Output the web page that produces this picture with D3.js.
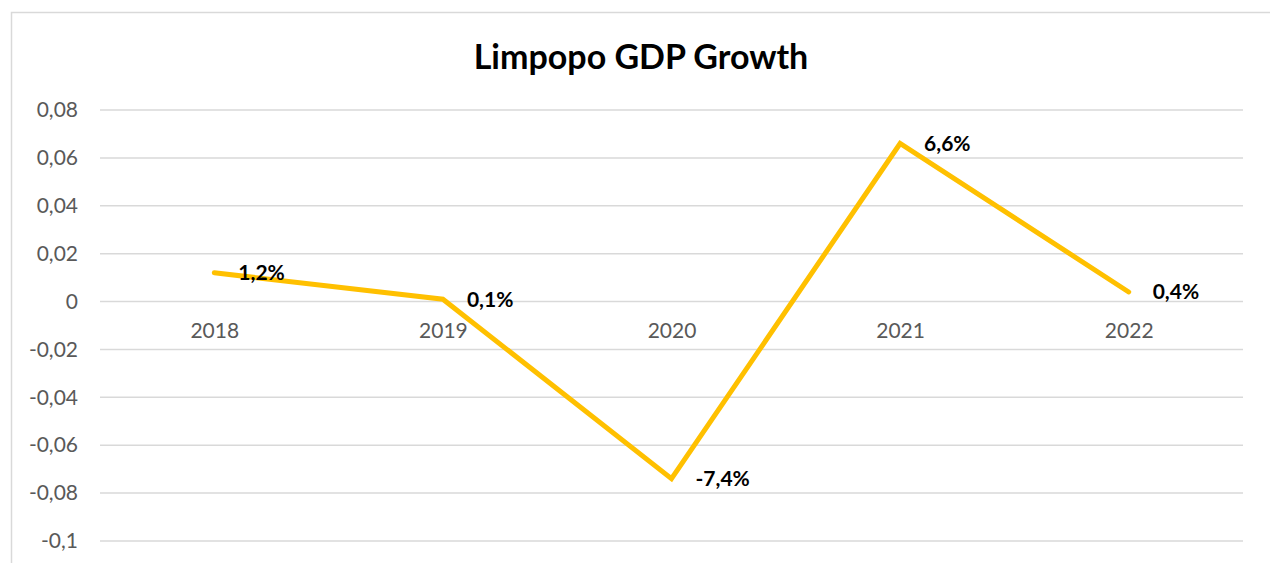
<!DOCTYPE html>
<html>
<head>
<meta charset="utf-8">
<script src="https://cdn.jsdelivr.net/npm/d3@7"></script>
<style>
  body { margin: 0; background: #fff; }
  svg { display: block; }
</style>
</head>
<body>
<div id="chart"></div>
<script>
// chart data
const years = ["2018", "2019", "2020", "2021", "2022"];
const growth = [0.012, 0.001, -0.074, 0.066, 0.004];
const growthLabels = ["1,2%", "0,1%", "-7,4%", "6,6%", "0,4%"];
const yTicks = [0.08, 0.06, 0.04, 0.02, 0, -0.02, -0.04, -0.06, -0.08, -0.1];
const chartTitle = "Limpopo GDP Growth";

const width = 1270, height = 563;
const plot = { left: 100, right: 1243, top: 110, bottom: 541 };
const fontFam = "Lato, 'Open Sans', sans-serif";

const svg = d3.select("#chart").append("svg")
    .attr("width", width)
    .attr("height", height);

// outer chart border (cut off at bottom/right like the reference)
svg.append("rect")
    .attr("x", 11.5).attr("y", 12.5)
    .attr("width", 1300).attr("height", 600)
    .attr("fill", "none")
    .attr("stroke", "#d9d9d9")
    .attr("stroke-width", 1.5);

const x = d3.scalePoint()
    .domain(years)
    .range([plot.left, plot.right])
    .padding(0.5);

const y = d3.scaleLinear()
    .domain([-0.1, 0.08])
    .range([plot.bottom, plot.top]);

const fmt = d => d === 0 ? "0" : String(+d.toFixed(2)).replace(".", ",");

// gridlines
svg.append("g")
    .selectAll("line")
    .data(yTicks)
    .join("line")
    .attr("x1", plot.left).attr("x2", plot.right)
    .attr("y1", d => y(d)).attr("y2", d => y(d))
    .attr("stroke", "#d9d9d9")
    .attr("stroke-width", 1.5);

// y axis labels
const yAxis = svg.append("g")
    .attr("transform", `translate(${plot.left - 22},0)`)
    .call(d3.axisLeft(y).tickValues(yTicks).tickFormat(fmt).tickSize(0).tickPadding(0));
yAxis.select(".domain").remove();
yAxis.selectAll("text")
    .attr("fill", "#595959")
    .style("font-family", fontFam)
    .style("font-size", "21px");

// category labels sit at the zero line
const xAxis = svg.append("g")
    .attr("transform", `translate(0,${y(0)})`)
    .call(d3.axisBottom(x).tickSize(0).tickPadding(22));
xAxis.select(".domain").remove();
xAxis.selectAll("text")
    .attr("fill", "#595959")
    .style("font-family", fontFam)
    .style("font-size", "21px");

// the line
const line = d3.line()
    .x((d, i) => x(years[i]))
    .y(d => y(d));

svg.append("path")
    .datum(growth)
    .attr("d", line)
    .attr("fill", "none")
    .attr("stroke", "#ffc000")
    .attr("stroke-width", 5)
    .attr("stroke-linejoin", "miter")
    .attr("stroke-linecap", "round");

// data labels
svg.append("g")
    .selectAll("text")
    .data(growth)
    .join("text")
    .attr("x", (d, i) => x(years[i]) + 24)
    .attr("y", d => y(d))
    .attr("dy", "0.35em")
    .attr("fill", "#000")
    .style("font-family", fontFam)
    .style("font-weight", "bold")
    .style("font-size", "21px")
    .text((d, i) => growthLabels[i]);

// title
svg.append("text")
    .attr("x", 641)
    .attr("y", 69)
    .attr("text-anchor", "middle")
    .attr("fill", "#000")
    .style("font-family", fontFam)
    .style("font-weight", "bold")
    .style("font-size", "34px")
    .text(chartTitle);
</script>
</body>
</html>
